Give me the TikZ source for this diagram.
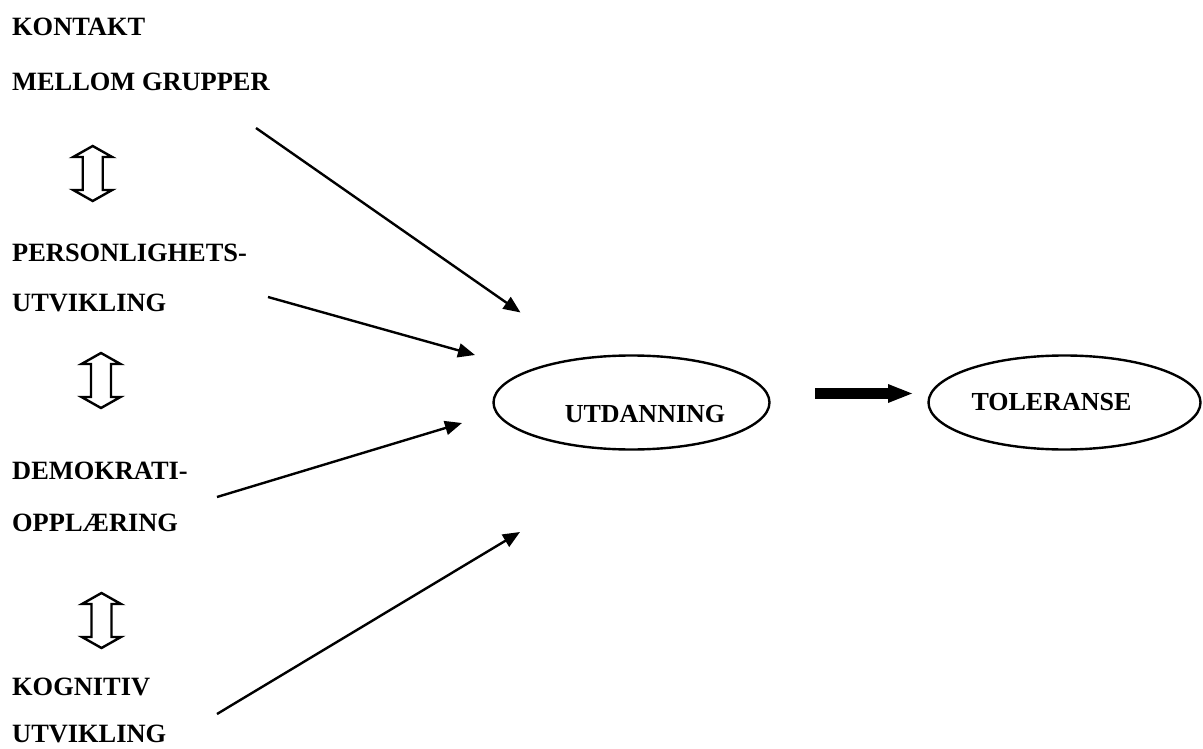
\documentclass[tikz,border=0pt]{standalone}
\usepackage{fontspec}
\setmainfont{Liberation Serif}
\usetikzlibrary{arrows.meta,shapes.geometric}
\begin{document}
\begin{tikzpicture}[x=1pt,y=-1pt,
  lbl/.style={anchor=base west,inner sep=0pt,font=\fontsize{26.4}{30}\selectfont\bfseries},
  ctr/.style={anchor=base,inner sep=0pt,font=\fontsize{26}{30}\selectfont\bfseries},
  oval/.style={draw,line width=2.4pt,ellipse,inner sep=0pt},
  thin/.style={line width=2.4pt,-{Triangle[length=17pt,width=14pt]}},
  dbl/.style={draw,line width=2.4pt,line join=miter,fill=white}]
\useasboundingbox (0,0) rectangle (1203,749);
% left labels
\node[lbl] (k1) at (12,36) {KONTAKT};
\node[lbl] (k2) at (12,91) {MELLOM GRUPPER};
\node[lbl] (p1) at (12,261) {PERSONLIGHETS-};
\node[lbl] (p2) at (12,311) {UTVIKLING};
\node[lbl] (d1) at (12,479) {DEMOKRATI-};
\node[lbl] (d2) at (12,531) {OPPLÆRING};
\node[lbl] (g1) at (12,695) {KOGNITIV};
\node[lbl] (g2) at (12,742) {UTVIKLING};
% double arrows
\newcommand\dblarrow[3]{%
  \draw[dbl] (#1,#2) -- (#1+19.5,#2+11) -- (#1+10,#2+11) -- (#1+10,#3-11) -- (#1+19.5,#3-11)
   -- (#1,#3) -- (#1-19.5,#3-11) -- (#1-10,#3-11) -- (#1-10,#2+11) -- (#1-19.5,#2+11) -- cycle;}
\dblarrow{92.7}{146}{201}
\dblarrow{101}{353}{408}
\dblarrow{101.5}{593}{648}
% ellipses
\node[oval,minimum width=276pt,minimum height=94pt] (utd) at (631.5,402.5) {};
\node[ctr] (utdt) at (645,422) {UTDANNING};
\node[oval,minimum width=272pt,minimum height=94pt] (tol) at (1064.5,402.5) {};
\node[ctr] (tolt) at (1051.5,410) {TOLERANSE};
% arrow end points
\coordinate (s1) at (256,128);
\coordinate (e1) at (520.5,312.5);
\coordinate (s2) at (268,297);
\coordinate (e2) at (475,355);
\coordinate (s3) at (217,497);
\coordinate (e3) at (462,423);
\coordinate (s4) at (217,714);
\coordinate (e4) at (520,532);
\draw[thin] (s1) -- (e1);
\draw[thin] (s2) -- (e2);
\draw[thin] (s3) -- (e3);
\draw[thin] (s4) -- (e4);
% thick arrow
\coordinate (ts) at (815,393.5);
\coordinate (te) at (912,393.5);
\fill (ts) ++(0,-5.3) -- ++(73,0) -- ++(0,-4.2) -- (te) -- ++(-24,9.5) -- ++(0,-4.2) -- ++(-73,0) -- cycle;
\end{tikzpicture}
\end{document}
